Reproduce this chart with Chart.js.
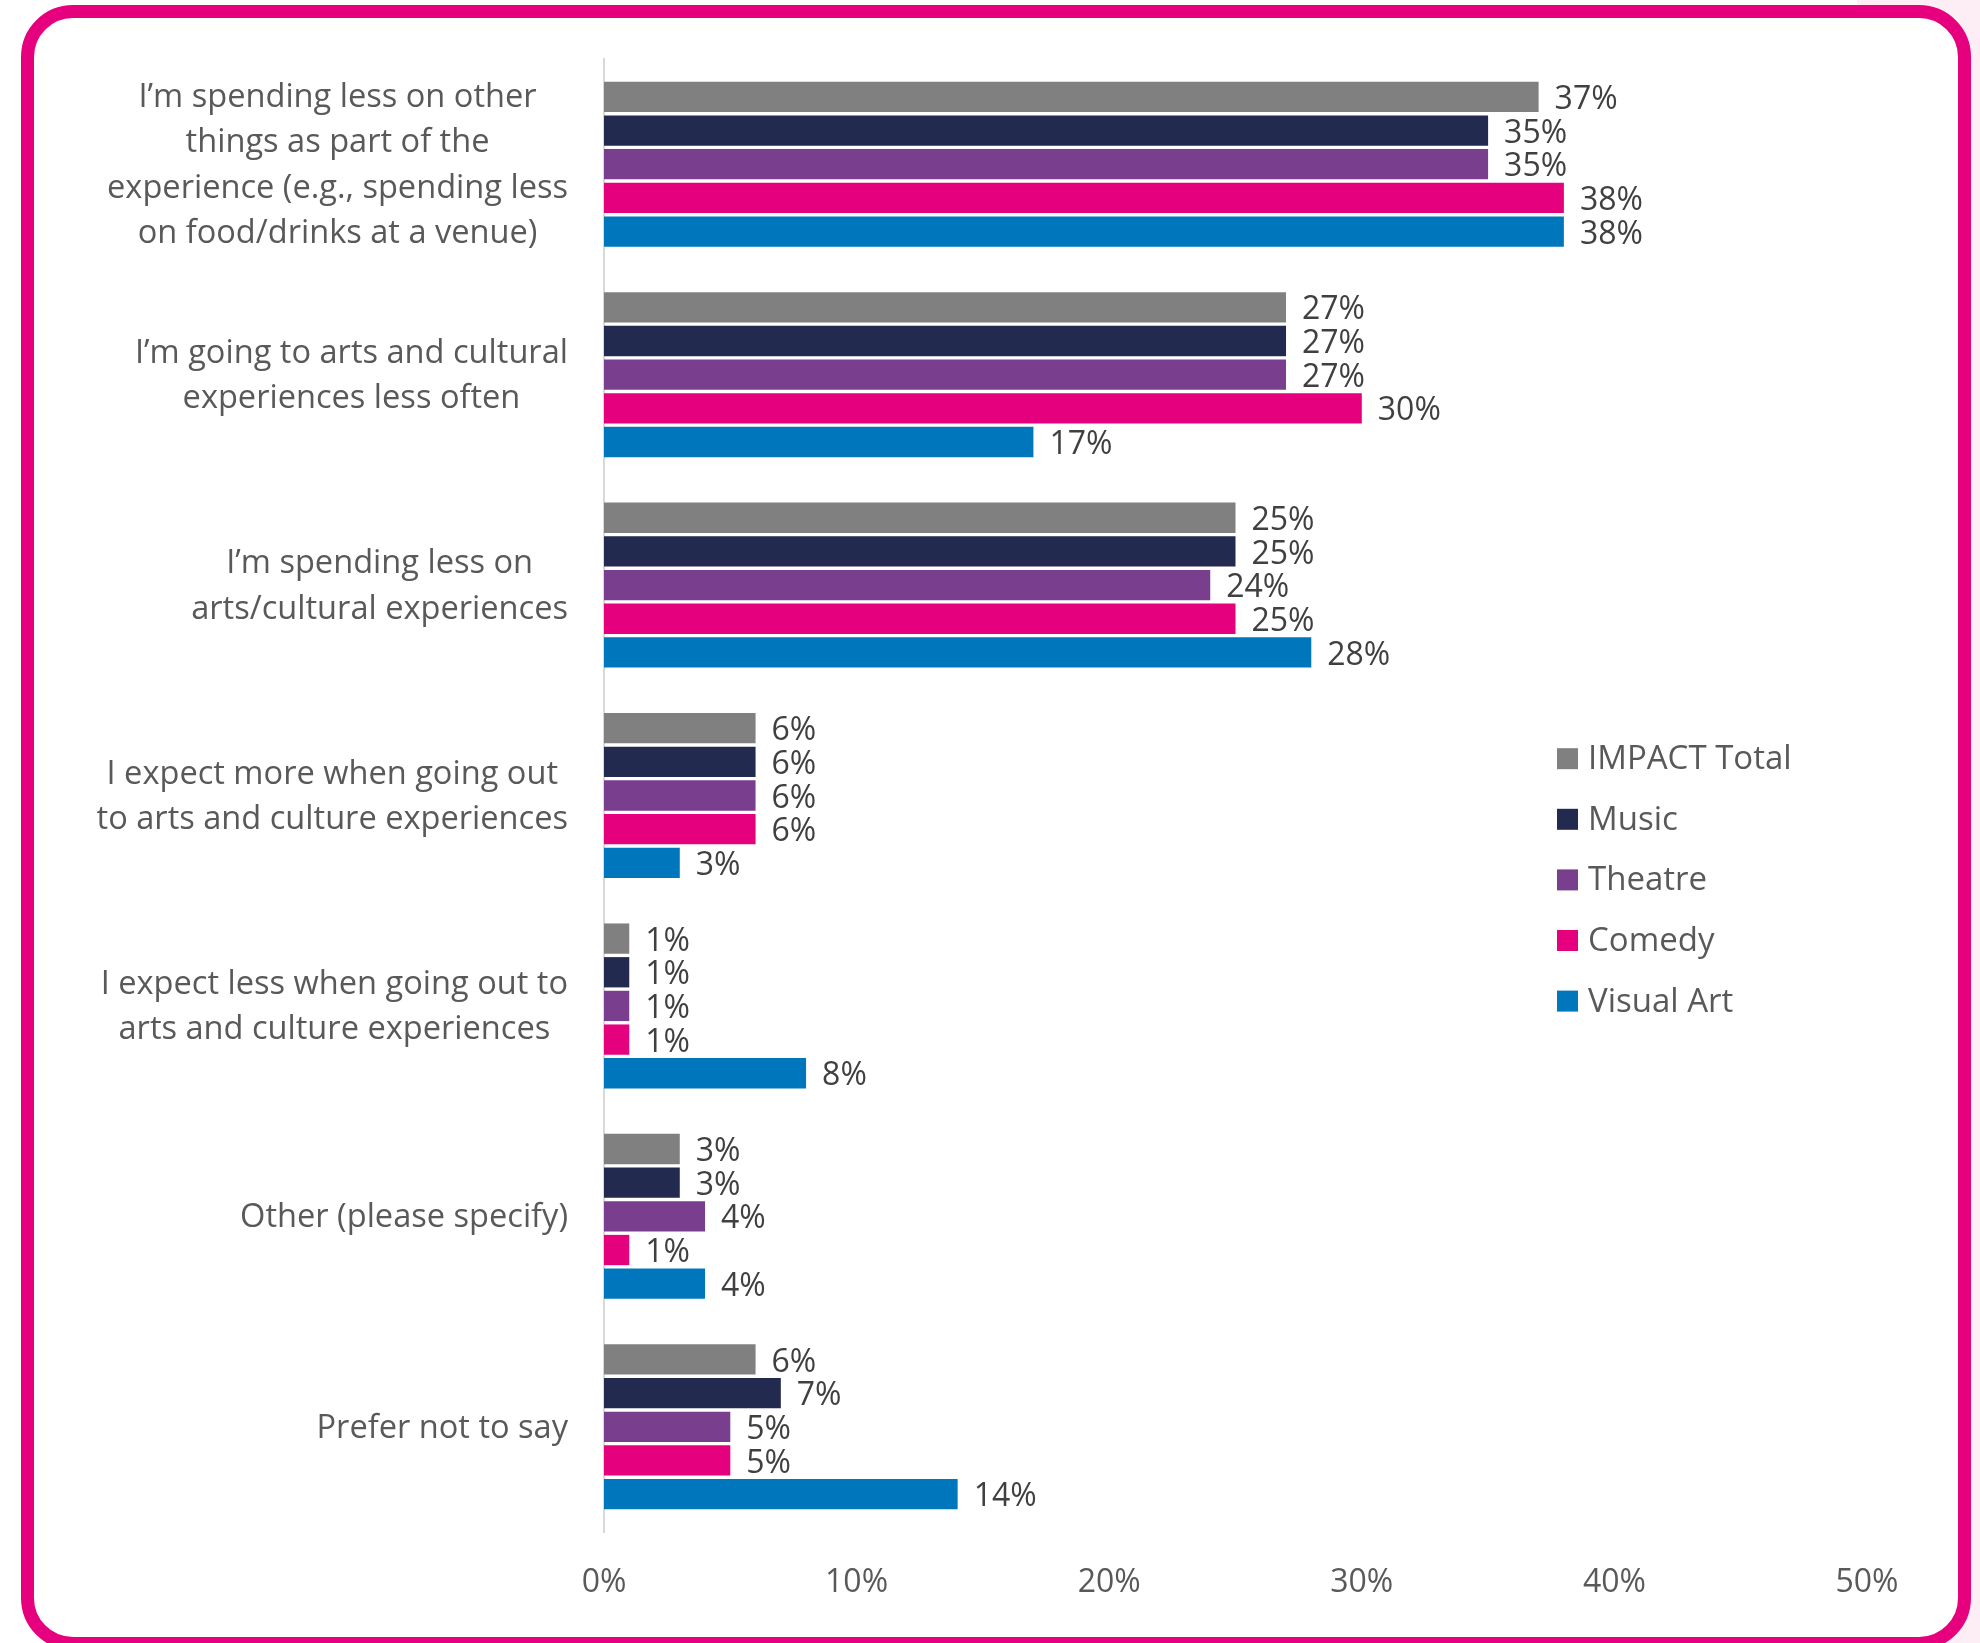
<!DOCTYPE html>
<html>
<head>
<meta charset="utf-8">
<script src="https://cdn.jsdelivr.net/npm/chart.js@4"></script>
<style>
  html, body { margin: 0; padding: 0; background: #ffffff; }
  body { width: 1980px; height: 1643px; position: relative; overflow: hidden; }
  #edge { position: absolute; left: 1857px; top: 0; width: 123px; height: 1643px; background: #fdeef5; }
  #frame { position: absolute; left: 21px; top: 5px; width: 1950px; height: 1645px; box-sizing: border-box;
           border: 13px solid #e6007e; border-radius: 52px; background: #ffffff; }
  #chart { position: absolute; left: 0; top: 0; }
</style>
</head>
<body>
<div id="edge"></div>
<div id="frame"></div>
<canvas id="chart" width="1980" height="1643"></canvas>
<script>
// Survey answers (one entry per line of each category label)
const categories = [
  ["I\u2019m spending less on other", "things as part of the", "experience (e.g., spending less", "on food/drinks at a venue)"],
  ["I\u2019m going to arts and cultural", "experiences less often"],
  ["I\u2019m spending less on", "arts/cultural experiences"],
  ["I expect more when going out", "to arts and culture experiences"],
  ["I expect less when going out to", "arts and culture experiences"],
  ["Other (please specify)"],
  ["Prefer not to say"]
];

const seriesNames = ["IMPACT Total", "Music", "Theatre", "Comedy", "Visual Art"];
const seriesColors = ["#808080", "#222a4f", "#7a3e8e", "#e5007d", "#0077bc"];

// Share of respondents (%)
const impactTotal = [37, 27, 25, 6, 1, 3, 6];
const music       = [35, 27, 25, 6, 1, 3, 7];
const theatre     = [35, 27, 24, 6, 1, 4, 5];
const comedy      = [38, 30, 25, 6, 1, 1, 5];
const visualArt   = [38, 17, 28, 3, 8, 4, 14];

const xTicks = [0, 10, 20, 30, 40, 50];

const FONT = '"Open Sans", sans-serif';
const LABEL_GREY = '#595959';

const seriesValues = [impactTotal, music, theatre, comedy, visualArt];

// Percentage labels to the right of every bar
const valueLabels = {
  id: 'valueLabels',
  afterDatasetsDraw(chart) {
    const ctx = chart.ctx;
    ctx.save();
    ctx.font = '32px ' + FONT;
    ctx.fillStyle = '#404040';
    ctx.textAlign = 'left';
    ctx.textBaseline = 'middle';
    chart.data.datasets.forEach((ds, di) => {
      chart.getDatasetMeta(di).data.forEach((bar, i) => {
        ctx.fillText(ds.data[i] + '%', bar.x + 16, bar.y + 3);
      });
    });
    ctx.restore();
  }
};

// Category labels: each block right-aligned against the axis, lines centred within it
const categoryLabels = {
  id: 'categoryLabels',
  afterDraw(chart) {
    const ctx = chart.ctx;
    const y = chart.scales.y;
    const lineH = 45.5;
    const rightEdge = y.right - 36;
    ctx.save();
    ctx.font = '32.6px ' + FONT;
    ctx.fillStyle = LABEL_GREY;
    ctx.textAlign = 'center';
    ctx.textBaseline = 'middle';
    categories.forEach((lines, i) => {
      const cy = y.getPixelForTick(i) + 1.5;
      const maxW = Math.max(...lines.map(l => ctx.measureText(l).width));
      const cx = rightEdge - maxW / 2;
      const top = cy - (lines.length - 1) * lineH / 2;
      lines.forEach((l, k) => ctx.fillText(l, cx, top + k * lineH));
    });
    ctx.restore();
  }
};

// Legend column inside the plot, to the right of the shorter bars
const sideLegend = {
  id: 'sideLegend',
  afterDraw(chart) {
    const ctx = chart.ctx;
    const x0 = 1557, y0 = 758.7, step = 60.6, box = 21;
    ctx.save();
    ctx.font = '33px ' + FONT;
    ctx.textAlign = 'left';
    ctx.textBaseline = 'middle';
    chart.data.datasets.forEach((ds, i) => {
      const cy = y0 + i * step;
      ctx.fillStyle = ds.backgroundColor;
      ctx.fillRect(x0, cy - box / 2, box, box);
      ctx.fillStyle = LABEL_GREY;
      ctx.fillText(ds.label, x0 + box + 10, cy + 1);
    });
    ctx.restore();
  }
};

new Chart(document.getElementById('chart'), {
  type: 'bar',
  data: {
    labels: categories,
    datasets: seriesNames.map((name, i) => ({
      label: name,
      data: seriesValues[i],
      backgroundColor: seriesColors[i],
      borderWidth: 0,
      categoryPercentage: 0.8,
      barPercentage: 0.9
    }))
  },
  options: {
    indexAxis: 'y',
    responsive: false,
    animation: false,
    devicePixelRatio: 1,
    layout: { padding: { left: 0, right: 113, top: 59, bottom: 0 } },
    plugins: { legend: { display: false }, tooltip: { enabled: false } },
    scales: {
      x: {
        min: xTicks[0],
        max: xTicks[xTicks.length - 1],
        afterBuildTicks(scale) { scale.ticks = xTicks.map(v => ({ value: v })); },
        afterFit(scale) { scale.height = 111; },
        grid: { display: false, drawTicks: false },
        border: { display: false },
        ticks: {
          padding: 32,
          color: LABEL_GREY,
          font: { family: FONT, size: 32 },
          callback: v => v + '%'
        }
      },
      y: {
        afterFit(scale) { scale.width = 604; },
        grid: { display: false, drawTicks: false },
        border: { display: true, color: '#d9d9d9', width: 2 },
        ticks: { display: false }
      }
    }
  },
  plugins: [valueLabels, categoryLabels, sideLegend]
});
</script>
</body>
</html>
